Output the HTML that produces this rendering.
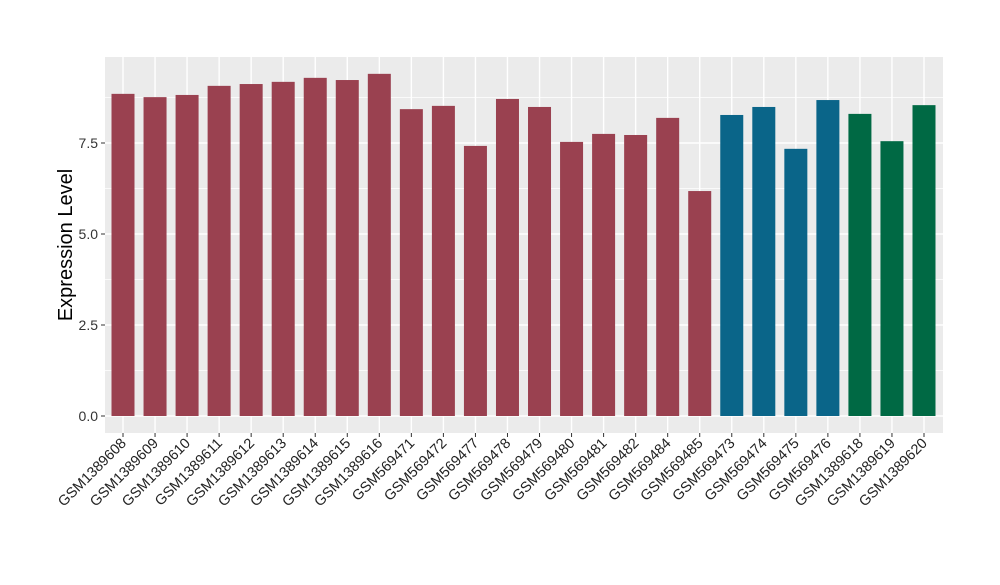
<!DOCTYPE html>
<html><head><meta charset="utf-8"><style>body{margin:0;background:#fff}svg text{font-family:"Liberation Sans",sans-serif}</style></head>
<body>
<svg id="chart" width="1000" height="580" xmlns="http://www.w3.org/2000/svg">
<rect x="105" y="57" width="838" height="376" fill="#ebebeb"/>
<g id="grid"></g><g id="bars"></g><g id="axes"></g>
<text transform="translate(72,245) rotate(-90)" text-anchor="middle" font-size="20" fill="#000">Expression Level</text>
</svg>
<script>
const categories=["GSM1389608","GSM1389609","GSM1389610","GSM1389611","GSM1389612","GSM1389613","GSM1389614","GSM1389615","GSM1389616","GSM569471","GSM569472","GSM569477","GSM569478","GSM569479","GSM569480","GSM569481","GSM569482","GSM569484","GSM569485","GSM569473","GSM569474","GSM569475","GSM569476","GSM1389618","GSM1389619","GSM1389620"];
const values=[8.85,8.76,8.82,9.07,9.12,9.18,9.29,9.23,9.40,8.43,8.52,7.42,8.71,8.49,7.53,7.75,7.72,8.19,6.18,8.27,8.49,7.34,8.68,8.30,7.55,8.54];
const groups=["a","a","a","a","a","a","a","a","a","a","a","a","a","a","a","a","a","a","a","b","b","b","b","c","c","c"];
const tickValues=[0,2.5,5,7.5];
const tickLabels=["0.0","2.5","5.0","7.5"];
const colors={a:"#9a4150",b:"#0a6589",c:"#006944"};
const NS="http://www.w3.org/2000/svg";
const y=v=>416-v*36.4;
const x=i=>123+i*32.04;
function mk(t,a,p){const e=document.createElementNS(NS,t);for(const k in a)e.setAttribute(k,a[k]);p.appendChild(e);return e;}
const grid=document.getElementById('grid'),bars=document.getElementById('bars'),axes=document.getElementById('axes');
for(let v=-1.25;v<=9.9;v+=1.25){if(y(v)<57||y(v)>433)continue;const major=Math.abs(v/2.5-Math.round(v/2.5))<1e-6;
const l=mk('line',{x1:105,x2:943,y1:y(v),y2:y(v),stroke:'#fff','stroke-width':major?1.4:0.7},grid);
}
categories.forEach((c,i)=>{const l=mk('line',{x1:x(i),x2:x(i),y1:57,y2:433,stroke:'#fff','stroke-width':1.4},grid);

const r=mk('rect',{x:x(i)-11.5,y:y(values[i]),width:23,height:y(0)-y(values[i]),fill:colors[groups[i]]},bars);

const t=mk('line',{x1:x(i),x2:x(i),y1:433,y2:437,stroke:'#333'},axes);

const tx=mk('text',{transform:`translate(${x(i)+4},${444}) rotate(-45)`,'text-anchor':'end','font-size':14.5,fill:'#222'},axes);
tx.textContent=c;});
tickValues.forEach((v,i)=>{const t=mk('line',{x1:101,x2:105,y1:y(v),y2:y(v),stroke:'#333'},axes);

const tx=mk('text',{x:98,y:y(v)+5,'text-anchor':'end','font-size':14,fill:'#333'},axes);
tx.textContent=tickLabels[i];});
</script>
</body></html>
